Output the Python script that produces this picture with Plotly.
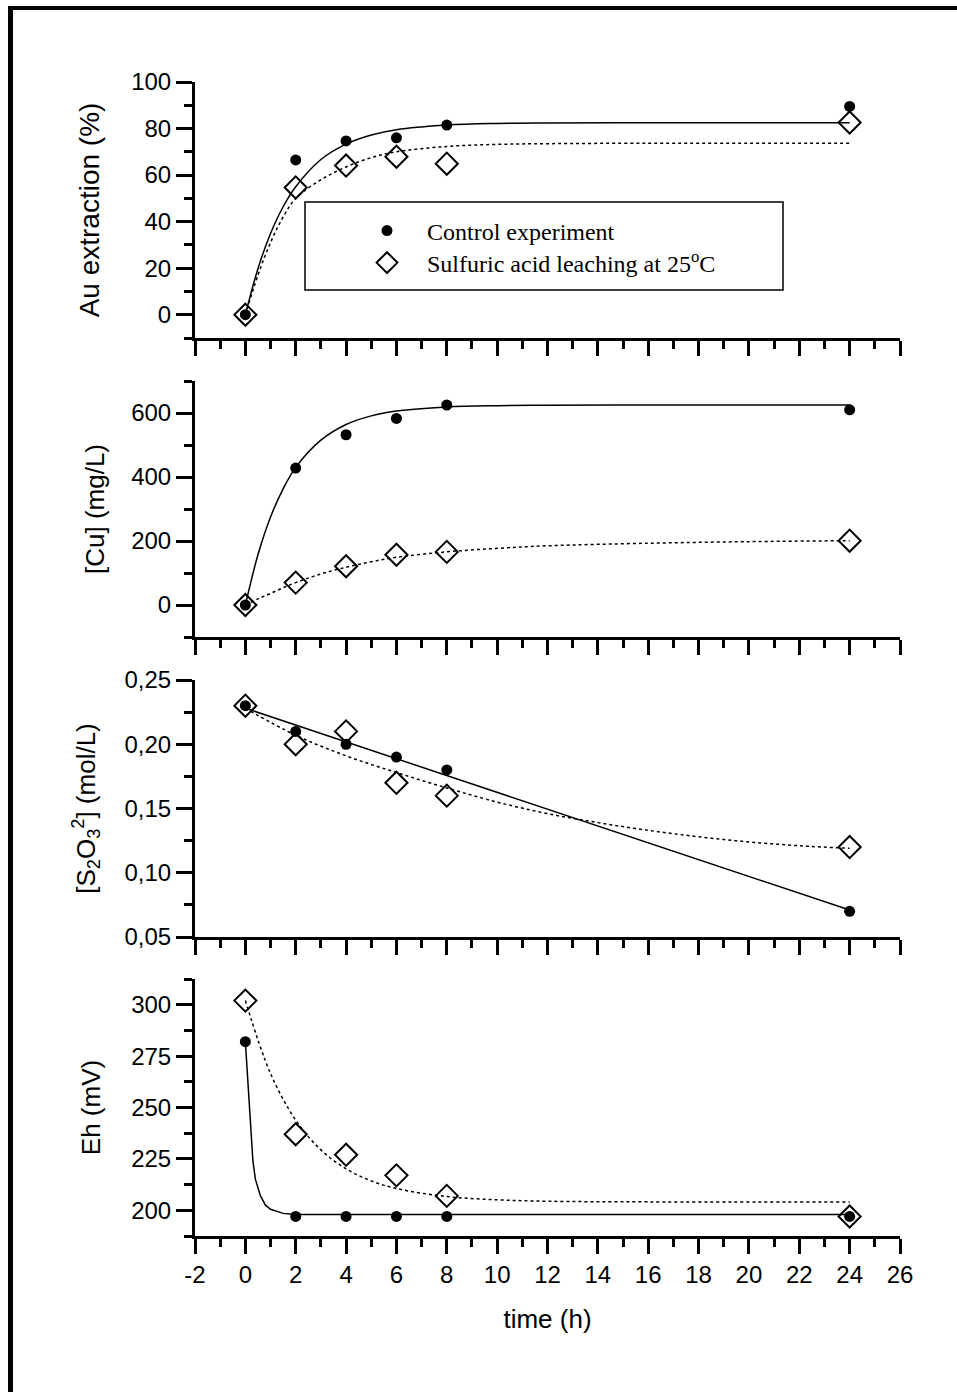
import plotly.graph_objects as go

W, H = 957, 1392

# ---------------- data ----------------
time_h = [0, 2, 4, 6, 8, 24]

au_control = [0, 66.5, 74.7, 76, 81.5, 89.5]
au_sulfuric = [0, 54.7, 64.1, 67.9, 64.9, 82.6]
au_fit_t = [0, 0.5, 1, 1.5, 2, 3, 4, 5, 6, 8, 10, 12, 16, 20, 24]
au_fit_control = [0, 19.8, 34.9, 46.4, 55.0, 66.7, 73.3, 77.2, 79.5, 81.5, 82.2, 82.4, 82.5, 82.5, 82.5]
au_fit_sulfuric = [0, 17, 31, 42, 50, 58, 63.5, 67.5, 70, 72.3, 73.2, 73.5, 73.7, 73.7, 73.7]

cu_control = [0, 428, 532, 583, 625, 610]
cu_sulfuric = [0, 70, 121, 157, 166, 201]
cu_fit_t = [0, 0.5, 1, 1.5, 2, 3, 4, 5, 6, 8, 10, 12, 16, 20, 24]
cu_fit_control = [0, 157, 275, 363, 430, 515, 564, 591, 606, 619, 623, 624, 625, 625, 625]
cu_fit_sulfuric = [0, 19, 36, 54, 70, 97, 118, 135, 149, 166, 177, 185, 193, 198, 201]

s2o3_control = [0.23, 0.21, 0.20, 0.19, 0.18, 0.07]
s2o3_sulfuric = [0.23, 0.20, 0.21, 0.17, 0.16, 0.12]
s2o3_fit_control_t = [0, 24]
s2o3_fit_control = [0.228, 0.071]
s2o3_fit_sulfuric_t = [0, 2, 4, 6, 8, 10, 12, 14, 16, 18, 20, 22, 24]
s2o3_fit_sulfuric = [0.228, 0.207, 0.191, 0.178, 0.166, 0.155, 0.146, 0.139, 0.133, 0.128, 0.124, 0.121, 0.119]

eh_control = [282, 197, 197, 197, 197, 197]
eh_sulfuric = [302, 237, 227, 217, 207, 197]
eh_fit_control_t = [0, 0.1, 0.2, 0.3, 0.4, 0.6, 0.8, 1.0, 1.5, 2, 4, 8, 24]
eh_fit_control = [282, 262, 240, 224, 215, 207, 202.5, 200.5, 198.5, 198, 198, 198, 198]
eh_fit_sulfuric_t = [0, 1, 2, 3, 4, 5, 6, 8, 10, 12, 16, 24]
eh_fit_sulfuric = [302, 266.5, 243.9, 229.4, 220.2, 214.3, 210.6, 206.7, 205.1, 204.4, 204.1, 204]

x_tickvals = list(range(-2, 27, 2))
x_ticktext = [str(v) for v in x_tickvals]

au_tickvals = [0, 20, 40, 60, 80, 100]
au_ticktext = ["0", "20", "40", "60", "80", "100"]
cu_tickvals = [0, 200, 400, 600]
cu_ticktext = ["0", "200", "400", "600"]
s_tickvals = [0.05, 0.10, 0.15, 0.20, 0.25]
s_ticktext = ["0,05", "0,10", "0,15", "0,20", "0,25"]
eh_tickvals = [200, 225, 250, 275, 300]
eh_ticktext = ["200", "225", "250", "275", "300"]

series_names = ["Control experiment", "Sulfuric acid leaching at 25<sup>o</sup>C"]

# ---------------- figure ----------------
SANS = "Liberation Sans, Arial, sans-serif"
SERIF = "Liberation Serif, Times New Roman, serif"


def px(x):
    return x / W


def py(y):
    return 1 - y / H


panels = [
    dict(pos=(82, 338), rng=[-10, 100], tv=au_tickvals, tt=au_ticktext, mdt=10, mt0=0,
         title="Au extraction (%)", tsize=28, so=24,
         c=au_control, s=au_sulfuric,
         fc=(au_fit_t, au_fit_control, "spline"), fs=(au_fit_t, au_fit_sulfuric, "spline")),
    dict(pos=(381, 637), rng=[-100, 700], tv=cu_tickvals, tt=cu_ticktext, mdt=100, mt0=0,
         title="[Cu] (mg/L)", tsize=26, so=20,
         c=cu_control, s=cu_sulfuric,
         fc=(cu_fit_t, cu_fit_control, "spline"), fs=(cu_fit_t, cu_fit_sulfuric, "spline")),
    dict(pos=(680, 937), rng=[0.05, 0.25], tv=s_tickvals, tt=s_ticktext, mdt=0.025, mt0=0.05,
         title="[S<sub>2</sub>O<sub>3</sub><sup>2</sup>] (mol/L)", tsize=26, so=22,
         c=s2o3_control, s=s2o3_sulfuric,
         fc=(s2o3_fit_control_t, s2o3_fit_control, "linear"),
         fs=(s2o3_fit_sulfuric_t, s2o3_fit_sulfuric, "spline")),
    dict(pos=(979, 1236), rng=[187.5, 312.5], tv=eh_tickvals, tt=eh_ticktext, mdt=12.5, mt0=200,
         title="Eh (mV)", tsize=26, so=24,
         c=eh_control, s=eh_sulfuric,
         fc=(eh_fit_control_t, eh_fit_control, "linear"),
         fs=(eh_fit_sulfuric_t, eh_fit_sulfuric, "spline")),
]

fig = go.Figure()
layout = {}

for i, p in enumerate(panels):
    n = "" if i == 0 else str(i + 1)
    xa, ya = "x" + n, "y" + n
    # fitted curves
    ft, fv, shape = p["fc"]
    fig.add_trace(go.Scatter(x=ft, y=fv, mode="lines", xaxis=xa, yaxis=ya, showlegend=False,
                             line=dict(color="black", width=1.5, shape=shape), hoverinfo="skip"))
    ft, fv, shape = p["fs"]
    fig.add_trace(go.Scatter(x=ft, y=fv, mode="lines", xaxis=xa, yaxis=ya, showlegend=False,
                             line=dict(color="black", width=1.5, dash="dot", shape=shape), hoverinfo="skip"))
    # data points
    fig.add_trace(go.Scatter(x=time_h, y=p["c"], mode="markers", xaxis=xa, yaxis=ya,
                             name=series_names[0], showlegend=(i == 0), legend="legend",
                             marker=dict(symbol="circle", size=11, color="black")))
    fig.add_trace(go.Scatter(x=time_h, y=p["s"], mode="markers", xaxis=xa, yaxis=ya,
                             name=series_names[1], showlegend=(i == 0), legend="legend2",
                             marker=dict(symbol="diamond-open", size=17, color="black",
                                         line=dict(color="black", width=2))))

    top, bottom = p["pos"]
    last = (i == len(panels) - 1)
    xcfg = dict(
        domain=[px(195), px(900)], range=[-2, 26], anchor=ya,
        tickmode="array", tickvals=x_tickvals, ticktext=x_ticktext,
        showticklabels=last,
        ticks="outside", ticklen=15, tickwidth=3, tickcolor="black",
        minor=dict(ticks="outside", ticklen=8, tickwidth=3, tickcolor="black", dtick=2, tick0=-1),
        showline=True, linewidth=3, linecolor="black", mirror=False,
        showgrid=False, zeroline=False, automargin=False,
        tickfont=dict(family=SANS, size=24, color="black"),
    )
    if last:
        xcfg["title"] = dict(text="time (h)", font=dict(family=SANS, size=26, color="black"),
                             standoff=24)
    layout["xaxis" + n] = xcfg
    layout["yaxis" + n] = dict(
        domain=[py(bottom), py(top)], range=p["rng"], anchor=xa,
        tickmode="array", tickvals=p["tv"], ticktext=p["tt"],
        ticks="outside", ticklen=16, tickwidth=3, tickcolor="black",
        minor=dict(ticks="outside", ticklen=8, tickwidth=3, tickcolor="black",
                   dtick=p["mdt"], tick0=p["mt0"]),
        showline=True, linewidth=3, linecolor="black", mirror=False,
        showgrid=False, zeroline=False, automargin=False,
        tickfont=dict(family=SANS, size=24, color="black"),
        title=dict(text=p["title"], font=dict(family=SANS, size=p["tsize"], color="black"),
                   standoff=p["so"]),
    )

shapes = [
    # legend frame
    dict(type="rect", xref="paper", yref="paper", x0=px(305), x1=px(783), y0=py(290), y1=py(202),
         line=dict(color="black", width=1.5), fillcolor="rgba(0,0,0,0)"),
    # page frame (top and left edges)
    dict(type="rect", xref="paper", yref="paper", x0=px(8), x1=px(957), y0=py(10), y1=py(6),
         line=dict(width=0), fillcolor="black"),
    dict(type="rect", xref="paper", yref="paper", x0=px(8), x1=px(13), y0=py(1392), y1=py(6),
         line=dict(width=0), fillcolor="black"),
]

legend_common = dict(xanchor="left", yanchor="middle", bgcolor="rgba(0,0,0,0)", borderwidth=0,
                     font=dict(family=SERIF, size=24, color="black"),
                     itemwidth=70, indentation=42)

fig.update_layout(
    width=W, height=H, autosize=False,
    margin=dict(l=0, r=0, t=0, b=0, pad=0, autoexpand=False),
    paper_bgcolor="white", plot_bgcolor="rgba(0,0,0,0)",
    showlegend=True,
    legend=dict(x=px(305), y=py(231), **legend_common),
    legend2=dict(x=px(305), y=py(263), **legend_common),
    shapes=shapes,
    **layout,
)

fig.write_html("out.html",
               post_script="document.body.style.margin='0';document.body.style.overflow='hidden';")
